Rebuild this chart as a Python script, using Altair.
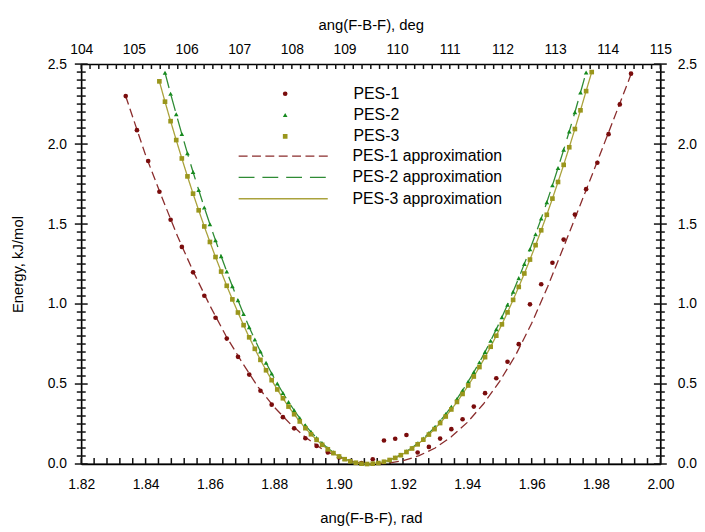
import altair as alt
import pandas as pd
import numpy as np

# ---------------- data ----------------
POINT_SERIES = ["PES-1", "PES-2", "PES-3"]
POINT_COLORS = ["#7a0c0c", "#168a1e", "#9a961c"]
POINT_SHAPES = ["circle", "triangle-up", "square"]
FIT_SERIES = ["PES-1 approximation", "PES-2 approximation", "PES-3 approximation"]
FIT_COLORS = ["#8a2c2c", "#2e8b34", "#aaa23c"]
FIT_DASHES = [[9, 4.5], [16, 8], [1, 0]]

# PES-1 points (0.2 deg steps)
PES1_RAD = [1.83382, 1.83731, 1.84080, 1.84429, 1.84778, 1.85127, 1.85476, 1.85825,
            1.86174, 1.86523, 1.86872, 1.87221, 1.87570, 1.87919, 1.88268, 1.88617,
            1.88966, 1.89315, 1.89664, 1.90013, 1.90362, 1.90711, 1.91060, 1.91409,
            1.91758, 1.92107, 1.92456, 1.92805, 1.93154, 1.93503, 1.93852, 1.94201,
            1.94551, 1.94900, 1.95249, 1.95598, 1.95947, 1.96296, 1.96645, 1.96994,
            1.97343, 1.97692, 1.98041, 1.98390, 1.98739, 1.99088]
PES1_E = [2.30, 2.087, 1.894, 1.702, 1.527, 1.357, 1.198, 1.052,
          0.914, 0.784, 0.670, 0.559, 0.458, 0.371, 0.293, 0.223,
          0.161, 0.113, 0.072, 0.041, 0.018, 0.006, 0.030, 0.147,
          0.158, 0.181, 0.072, 0.107, 0.159, 0.218, 0.280, 0.359,
          0.443, 0.536, 0.639, 0.749, 0.998, 1.124, 1.258, 1.403,
          1.559, 1.718, 1.883, 2.062, 2.248, 2.44]

# PES-3 points (0.1 deg steps)
PES3_RAD = [1.84428, 1.84603, 1.84777, 1.84952, 1.85126, 1.85301, 1.85475, 1.85650,
            1.85824, 1.85999, 1.86173, 1.86348, 1.86522, 1.86697, 1.86871, 1.87046,
            1.87220, 1.87395, 1.87569, 1.87744, 1.87918, 1.88093, 1.88268, 1.88442,
            1.88617, 1.88791, 1.88966, 1.89140, 1.89315, 1.89489, 1.89664, 1.89838,
            1.90013, 1.90187, 1.90362, 1.90536, 1.90711, 1.90885, 1.91060, 1.91235,
            1.91409, 1.91584, 1.91758, 1.91933, 1.92107, 1.92282, 1.92456, 1.92631,
            1.92805, 1.92980, 1.93154, 1.93329, 1.93503, 1.93678, 1.93852, 1.94027,
            1.94201, 1.94376, 1.94551, 1.94725, 1.94900, 1.95074, 1.95249, 1.95423,
            1.95598, 1.95772, 1.95947, 1.96121, 1.96296, 1.96470, 1.96645, 1.96819,
            1.96994, 1.97168, 1.97343, 1.97517, 1.97692, 1.97866]
PES3_E = [2.392, 2.265, 2.143, 2.025, 1.910, 1.798, 1.690, 1.586,
          1.485, 1.388, 1.294, 1.203, 1.114, 1.029, 0.947, 0.868,
          0.792, 0.720, 0.651, 0.586, 0.524, 0.466, 0.411, 0.359,
          0.311, 0.266, 0.224, 0.186, 0.151, 0.120, 0.092, 0.068,
          0.047, 0.030, 0.017, 0.008, 0.002, 0.000, 0.002, 0.006,
          0.014, 0.025, 0.038, 0.055, 0.075, 0.097, 0.123, 0.152,
          0.184, 0.218, 0.256, 0.297, 0.341, 0.388, 0.438, 0.491,
          0.547, 0.606, 0.668, 0.733, 0.802, 0.873, 0.948, 1.026,
          1.107, 1.191, 1.278, 1.368, 1.461, 1.558, 1.659, 1.763,
          1.870, 1.980, 2.094, 2.211, 2.331, 2.450]

# PES-2 points (0.1 deg steps)
PES2_RAD = [1.84603, 1.84777, 1.84952, 1.85126, 1.85301, 1.85475, 1.85650,
            1.85824, 1.85999, 1.86173, 1.86348, 1.86522, 1.86697, 1.86871, 1.87046,
            1.87220, 1.87395, 1.87569, 1.87744, 1.87918, 1.88093, 1.88268, 1.88442,
            1.88617, 1.88791, 1.88966, 1.89140, 1.89315, 1.89489, 1.89664, 1.89838,
            1.90013, 1.90187, 1.90362, 1.90536, 1.90711, 1.90885, 1.91060, 1.91235,
            1.91409, 1.91584, 1.91758, 1.91933, 1.92107, 1.92282, 1.92456, 1.92631,
            1.92805, 1.92980, 1.93154, 1.93329, 1.93503, 1.93678, 1.93852, 1.94027,
            1.94201, 1.94376, 1.94551, 1.94725, 1.94900, 1.95074, 1.95249, 1.95423,
            1.95598, 1.95772, 1.95947, 1.96121, 1.96296, 1.96470, 1.96645, 1.96819,
            1.96994, 1.97168, 1.97343, 1.97517, 1.97692]
PES2_E = [2.446, 2.314, 2.187, 2.063, 1.942, 1.825, 1.713,
          1.604, 1.499, 1.398, 1.299, 1.203, 1.111, 1.023, 0.937,
          0.855, 0.778, 0.703, 0.633, 0.566, 0.503, 0.444, 0.388,
          0.336, 0.287, 0.242, 0.201, 0.163, 0.130, 0.099, 0.073,
          0.051, 0.032, 0.018, 0.008, 0.002, 0.000, 0.002, 0.006,
          0.015, 0.026, 0.040, 0.058, 0.079, 0.102, 0.129, 0.160,
          0.193, 0.229, 0.269, 0.312, 0.358, 0.407, 0.460, 0.516,
          0.574, 0.636, 0.701, 0.770, 0.842, 0.917, 0.995, 1.077,
          1.162, 1.251, 1.342, 1.436, 1.534, 1.636, 1.742, 1.851,
          1.964, 2.079, 2.199, 2.322, 2.448]

# PES-1 approximation curve
PES1_FIT_RAD = [1.8338, 1.840, 1.845, 1.850, 1.855, 1.860, 1.865, 1.870, 1.875,
                1.880, 1.885, 1.890, 1.895, 1.900, 1.905, 1.910, 1.915, 1.920,
                1.925, 1.930, 1.935, 1.940, 1.945, 1.950, 1.955, 1.960, 1.965,
                1.970, 1.975, 1.980, 1.985, 1.990, 1.9912]
PES1_FIT_E = [2.30, 1.93, 1.67, 1.42, 1.195, 0.99, 0.80, 0.635, 0.48,
              0.355, 0.25, 0.162, 0.092, 0.042, 0.012, 0.0, 0.004, 0.02,
              0.052, 0.10, 0.17, 0.26, 0.375, 0.515, 0.68, 0.88, 1.11,
              1.36, 1.615, 1.87, 2.13, 2.39, 2.455]

# axis ranges and tick positions (major + minor)
RAD_RANGE = [1.82, 2.0]
DEG_RANGE = [104, 115]
E_RANGE = [0.0, 2.5]
X_TICKS = [round(v, 3) for v in np.arange(1.82, 2.0001, 0.004)]
Y_TICKS = [round(v, 2) for v in np.arange(0.0, 2.5001, 0.05)]
DEG_TICKS = [round(104 + i / 6, 5) for i in range(0, 67)]

# ---------------- tables ----------------
points_df = pd.concat([
    pd.DataFrame({"rad": PES1_RAD, "E": PES1_E, "series": "PES-1"}),
    pd.DataFrame({"rad": PES2_RAD, "E": PES2_E, "series": "PES-2"}),
    pd.DataFrame({"rad": PES3_RAD, "E": PES3_E, "series": "PES-3"}),
], ignore_index=True)
lines_df = pd.concat([
    pd.DataFrame({"rad": PES1_FIT_RAD, "E": PES1_FIT_E, "series": "PES-1 approximation"}),
    pd.DataFrame({"rad": PES2_RAD, "E": PES2_E, "series": "PES-2 approximation"}),
    pd.DataFrame({"rad": PES3_RAD, "E": PES3_E, "series": "PES-3 approximation"}),
], ignore_index=True)
axes_df = pd.DataFrame({"deg": DEG_RANGE, "E": E_RANGE})
bottom_ticks_df = pd.DataFrame({"rad": X_TICKS, "E": E_RANGE[0]})
left_ticks_df = pd.DataFrame({"rad": RAD_RANGE[0], "E": Y_TICKS})
right_ticks_df = pd.DataFrame({"rad": RAD_RANGE[1], "E": Y_TICKS})
top_ticks_df = pd.DataFrame({"deg": DEG_TICKS, "E": E_RANGE[1]})

FONT = "Liberation Sans"

MAJ_X = "abs(datum.value*50 - round(datum.value*50)) < 0.01"
MAJ_Y = "abs(datum.value*2 - round(datum.value*2)) < 0.01"
MAJ_D = "abs(datum.value - round(datum.value)) < 0.01"

common = dict(grid=False, ticks=False, domainColor="black", domainWidth=1.3,
              labelColor="black", labelFont=FONT, labelFontSize=14,
              titleFont=FONT, titleFontSize=15, titleFontWeight="normal",
              titleColor="black", labelOverlap=False, labelFlush=False)

bottom_axis = alt.Axis(
    orient="bottom", values=X_TICKS, title="ang(F-B-F), rad", titlePadding=19,
    labelPadding=14, labelExpr=f"{MAJ_X} ? format(datum.value, '.2f') : ''", **common)
left_axis = alt.Axis(
    orient="left", values=Y_TICKS, title="Energy, kJ/mol", titlePadding=22,
    labelPadding=15, labelExpr=f"{MAJ_Y} ? format(datum.value, '.1f') : ''", **common)
top_axis = alt.Axis(
    orient="top", values=DEG_TICKS, title="ang(F-B-F), deg", titlePadding=10,
    labelPadding=8, labelExpr=f"{MAJ_D} ? format(datum.value, 'd') : ''", **common)
right_axis = alt.Axis(
    orient="right", values=Y_TICKS, title=None,
    labelPadding=17, labelExpr=f"{MAJ_Y} ? format(datum.value, '.1f') : ''", **common)

x_scale = alt.Scale(domain=RAD_RANGE, nice=False, zero=False)
y_scale = alt.Scale(domain=E_RANGE, nice=False, zero=False)
deg_scale = alt.Scale(domain=DEG_RANGE, nice=False, zero=False)

legend_common = dict(title=None, orient="none", padding=0, clipHeight=16,
                     rowPadding=5.5, labelFont=FONT, labelFontSize=16,
                     labelColor="black")
point_legend = alt.Legend(legendX=198, legendY=22, symbolSize=22,
                          labelOffset=61, symbolStrokeWidth=0, **legend_common)
fit_legend = alt.Legend(legendX=158, legendY=85, symbolSize=8100,
                        labelOffset=24, symbolStrokeWidth=1.4, symbolType="stroke",
                        **legend_common)

x_main = alt.X("rad:Q", scale=x_scale, axis=bottom_axis)
y_main = alt.Y("E:Q", scale=y_scale, axis=left_axis)
x_deg = alt.X("deg:Q", scale=deg_scale, axis=top_axis)
y_right = alt.Y("E:Q", scale=y_scale, axis=right_axis)

tick_style = dict(color="#111111", opacity=1, thickness=1.5)
MAJOR_E = "abs(datum.E*2 - round(datum.E*2)) < 0.01"

# axis tick marks (inward on bottom/top, crossing on left/right)
bottom_ticks = alt.Chart(bottom_ticks_df).mark_tick(
    orient="vertical", size=6, yOffset=-3, **tick_style).encode(x=x_main, y=y_main)
left_ticks = alt.Chart(left_ticks_df).mark_tick(orient="horizontal", **tick_style).encode(
    x=x_main, y=y_main, size=alt.condition(MAJOR_E, alt.value(13), alt.value(9)))
right_ticks = alt.Chart(right_ticks_df).mark_tick(orient="horizontal", **tick_style).encode(
    x=x_main, y=y_main, size=alt.condition(MAJOR_E, alt.value(13), alt.value(9)))
top_ticks = alt.Chart(top_ticks_df).mark_tick(
    orient="vertical", size=5, yOffset=2.5, **tick_style).encode(x=x_deg, y=y_right)

line_layer = alt.Chart(lines_df).mark_line(strokeWidth=1.3).encode(
    x=x_main, y=y_main,
    stroke=alt.Stroke("series:N", scale=alt.Scale(domain=FIT_SERIES, range=FIT_COLORS),
                      legend=fit_legend),
    strokeDash=alt.StrokeDash("series:N", scale=alt.Scale(domain=FIT_SERIES, range=FIT_DASHES),
                              legend=fit_legend),
    detail="series:N",
)
point_layer = alt.Chart(points_df).mark_point(filled=True, opacity=1, size=22).encode(
    x=x_main, y=y_main,
    fill=alt.Fill("series:N", scale=alt.Scale(domain=POINT_SERIES, range=POINT_COLORS),
                  legend=point_legend),
    shape=alt.Shape("series:N", scale=alt.Scale(domain=POINT_SERIES, range=POINT_SHAPES),
                    legend=point_legend),
)
data_layers = alt.layer(bottom_ticks, left_ticks, right_ticks, line_layer, point_layer)

axes_layer = alt.Chart(axes_df).mark_point(opacity=0).encode(x=x_deg, y=y_right)
deg_layers = alt.layer(axes_layer, top_ticks)

chart = alt.layer(data_layers, deg_layers).resolve_scale(
    x="independent", y="independent"
).properties(
    width=585, height=404,
    padding={"left": 2, "top": 7, "right": 0, "bottom": 0},
    background="white",
).configure_view(stroke="black", strokeWidth=1.3)

chart.save("out.html", embed_options={"renderer": "svg", "actions": False})
